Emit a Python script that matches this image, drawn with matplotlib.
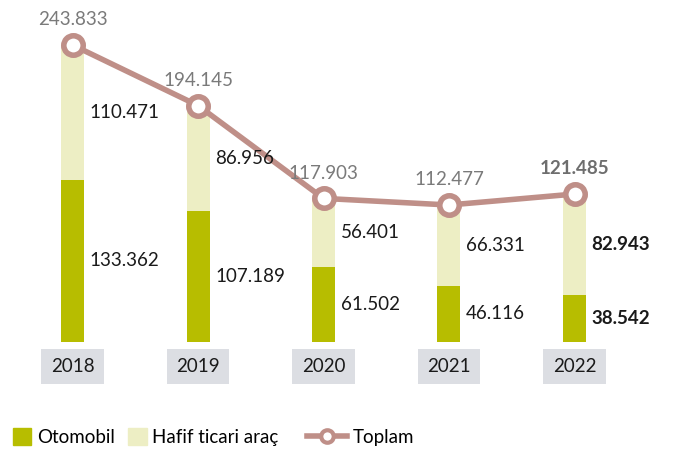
import numpy as np
import matplotlib
matplotlib.use('Agg')
import matplotlib.pyplot as plt
from matplotlib.patches import Patch
from matplotlib.lines import Line2D

plt.rcParams['font.family'] = ['Lato', 'DejaVu Sans']

years    = ['2018', '2019', '2020', '2021', '2022']
otomobil = [133.362, 107.189, 61.502, 46.116, 38.542]
hafif    = [110.471, 86.956, 56.401, 66.331, 82.943]
toplam   = [243.833, 194.145, 117.903, 112.477, 121.485]

C_OTO   = '#b7bd00'
C_HAFIF = '#edeec4'
C_LINE  = '#bf8f88'
C_TEXT  = '#1a1a1a'
C_GRAY  = '#7a7a7a'
C_BOX   = '#dcdee3'

W, H = 673, 451
fig = plt.figure(figsize=(W / 100, H / 100), dpi=100)
base_px = 342
ax = fig.add_axes([0, (H - base_px) / H, 1, base_px / H])

step = 125.5
x0 = 72.5
ax.set_xlim(-x0 / step, (W - x0) / step)
ax.set_ylim(0, base_px / 1.218)
ax.axis('off')

x = np.arange(len(years))
bw = 23 / step
ax.bar(x, otomobil, width=bw, color=C_OTO, zorder=1)
ax.bar(x, hafif, width=bw, bottom=otomobil, color=C_HAFIF, zorder=1)
ax.plot(x, toplam, color=C_LINE, lw=4, marker='o', ms=14, mfc='white',
        mec=C_LINE, mew=4, zorder=3, solid_capstyle='round')

fmt = lambda v: f'{v:.3f}'
fs = 13.5
for i in range(len(years)):
    bold = 'bold' if i == len(years) - 1 else 'normal'
    ax.annotate(fmt(otomobil[i]), (x[i] + bw / 2, otomobil[i] / 2),
                xytext=(4, 0), textcoords='offset points', va='center',
                ha='left', fontsize=fs, color=C_TEXT, fontweight=bold)
    ax.annotate(fmt(hafif[i]), (x[i] + bw / 2, otomobil[i] + hafif[i] / 2),
                xytext=(4, 0), textcoords='offset points', va='center',
                ha='left', fontsize=fs, color=C_TEXT, fontweight=bold)
    ax.annotate(fmt(toplam[i]), (x[i], toplam[i]), xytext=(0, 12),
                textcoords='offset points', ha='center', va='bottom',
                fontsize=fs, color='#6e6e6e' if bold == 'bold' else C_GRAY,
                fontweight=bold)
    ax.annotate(years[i], (x[i], 0), xytext=(0, -17.6), textcoords='offset points',
                ha='center', va='center', fontsize=fs, color=C_TEXT,
                annotation_clip=False,
                bbox=dict(boxstyle='square,pad=0.5', fc=C_BOX, ec='none'))

h1 = [Patch(color=C_OTO, label='Otomobil'),
      Patch(color=C_HAFIF, label='Hafif ticari araç')]
fig.legend(handles=h1, loc='center left', bbox_to_anchor=(0.005, (H - 437) / H),
           ncol=2, frameon=False, fontsize=fs, handlelength=1.0, handleheight=1.0,
           handletextpad=0.3, columnspacing=0.7, borderpad=0)
h2 = [Line2D([], [], color=C_LINE, lw=4, marker='o', ms=9, mfc='white',
             mec=C_LINE, mew=3, label='Toplam')]
fig.legend(handles=h2, loc='center left', bbox_to_anchor=(298 / W, (H - 437) / H),
           frameon=False, fontsize=fs, handlelength=2.1, handletextpad=0.3, borderpad=0)

fig.savefig('out.png', dpi=100)
